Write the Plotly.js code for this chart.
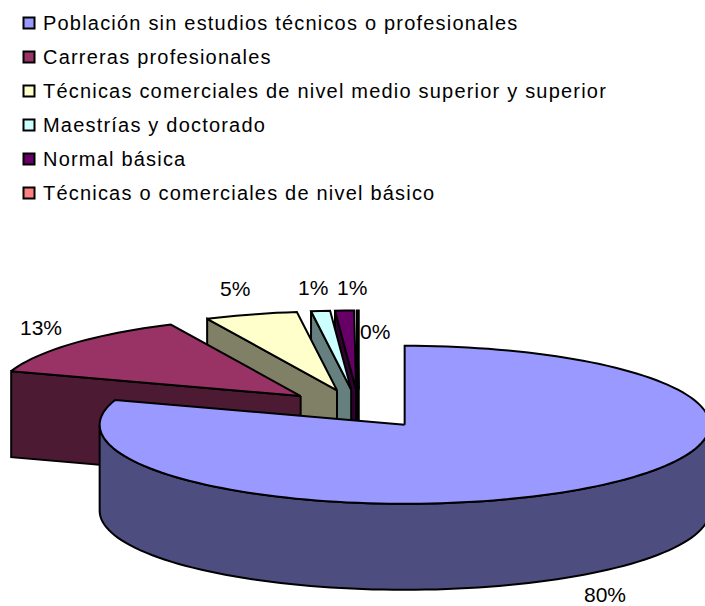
<!DOCTYPE html>
<html>
<head>
<meta charset="utf-8">
<script src="https://cdn.plot.ly/plotly-3.0.1.min.js"></script>
<style>
html,body{margin:0;padding:0;background:#fff}
#chart{width:705px;height:606px}
.textpoint text{letter-spacing:1.2px}
</style>
</head>
<body>
<div id="chart"></div>
<script>
// ---- data ----
var categories = [
  "Población sin estudios técnicos o profesionales",
  "Carreras profesionales",
  "Técnicas comerciales de nivel medio superior y superior",
  "Maestrías y doctorado",
  "Normal básica",
  "Técnicas o comerciales de nivel básico"
];
var shares = [80.1, 12.9, 4.9, 1, 1, 0.1];
var topColors = ["#9999FF", "#993366", "#FFFFCC", "#CCFFFF", "#660066", "#FF8080"];
var wallColors = ["#4D4D80", "#4D1A33", "#808066", "#668080", "#330033", "#804040"];

// ---- pie projection (screen-space axes) ----
var W = 705, H = 606;
var pie = {cx: 359, cy: 409, rx: 305, ry: 79, depth: 86, explode: 78, explodeY: 0.25};
var legendBox = {x: 29, y: 23, row: 34, textX: 43, textDy: 2};
var labelPos = [[605, 594], [41, 327], [235, 288], [313, 287], [352, 287], [375, 331]];
var OUT = "#000", LW = 2;
var FONT = "Liberation Sans, Arial, sans-serif";

var rad = function (d) { return d * Math.PI / 180; };
function rim(apex, a) {
  return [apex[0] + pie.rx * Math.sin(rad(a)), apex[1] - pie.ry * Math.cos(rad(a))];
}
function arc(apex, a0, a1) {
  var pts = [], n = Math.max(2, Math.ceil(Math.abs(a1 - a0) / 2));
  for (var i = 0; i <= n; i++) pts.push(rim(apex, a0 + (a1 - a0) * i / n));
  return pts;
}
function poly(pts, fill, name) {
  var closed = pts.concat([pts[0]]);
  return {
    type: "scatter", mode: "lines", name: name, showlegend: false, hoverinfo: "skip",
    x: closed.map(function (p) { return p[0]; }),
    y: closed.map(function (p) { return p[1]; }),
    fill: "toself", fillcolor: fill,
    line: {color: OUT, width: LW, simplify: false}
  };
}
function drop(pts) { return pts.map(function (p) { return [p[0], p[1] + pie.depth]; }); }

var total = shares.reduce(function (a, b) { return a + b; }, 0);
var acc = 0;
var slices = shares.map(function (v, i) {
  var a0 = acc / total * 360; acc += v;
  var a1 = acc / total * 360, mid = (a0 + a1) / 2;
  return {
    i: i, a0: a0, a1: a1,
    apex: [pie.cx + pie.explode * Math.sin(rad(mid)),
           pie.cy - pie.explode * pie.explodeY * Math.cos(rad(mid))]
  };
});

var traces = [];
slices.slice().reverse().forEach(function (s) {
  var name = categories[s.i], top = topColors[s.i], wall = wallColors[s.i];
  var p0 = rim(s.apex, s.a0);
  // radial wall: only the edge turned toward the viewer
  if (s.a0 > 180) {
    traces.push(poly([s.apex, p0].concat([[p0[0], p0[1] + pie.depth], [s.apex[0], s.apex[1] + pie.depth]]), wall, name));
  }
  // outer wall: only the front half of the rim
  var f0 = Math.max(s.a0, 90), f1 = Math.min(s.a1, 270);
  if (f1 > f0) {
    var front = arc(s.apex, f0, f1);
    traces.push(poly(front.concat(drop(front).reverse()), wall, name));
  }
  traces.push(poly([s.apex].concat(arc(s.apex, s.a0, s.a1)), top, name));
});

var rowsY = categories.map(function (c, i) { return legendBox.y + i * legendBox.row; });

// legend swatches
traces.push({
  type: "scatter", mode: "markers", showlegend: false, hoverinfo: "skip",
  x: categories.map(function () { return legendBox.x; }), y: rowsY,
  marker: {symbol: "square", size: 11, color: topColors, line: {color: OUT, width: 2}}
});
// legend texts
traces.push({
  type: "scatter", mode: "text", showlegend: false, hoverinfo: "skip",
  x: categories.map(function () { return legendBox.textX; }),
  y: rowsY.map(function (y) { return y + legendBox.textDy; }),
  text: categories, textposition: "middle right",
  textfont: {family: FONT, size: 20, color: "#000"}
});

var annotations = shares.map(function (v, i) {
  return {
    text: Math.round(v) + "%", x: labelPos[i][0], y: labelPos[i][1], xref: "x", yref: "y",
    xanchor: "center", yanchor: "middle", showarrow: false,
    font: {family: FONT, size: 21, color: "#000"}
  };
});

Plotly.newPlot("chart", traces, {
  width: W, height: H, showlegend: false,
  margin: {l: 0, r: 0, t: 0, b: 0},
  paper_bgcolor: "#fff", plot_bgcolor: "#fff",
  xaxis: {range: [0, W], visible: false, fixedrange: true},
  yaxis: {range: [H, 0], visible: false, fixedrange: true},
  annotations: annotations
}, {displayModeBar: false, staticPlot: true});
</script>
</body>
</html>
